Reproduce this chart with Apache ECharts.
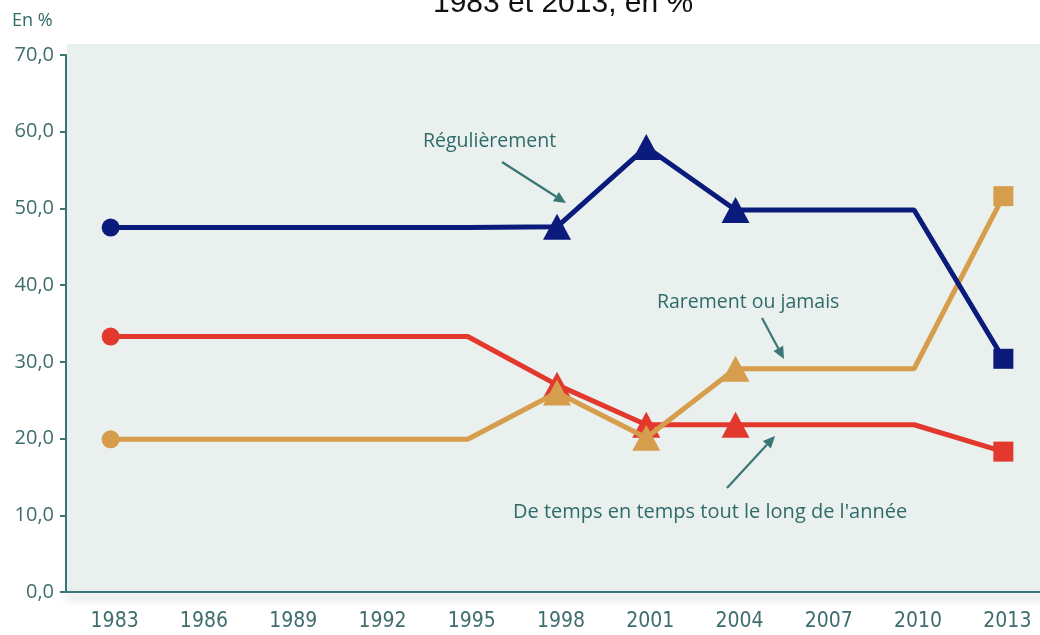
<!DOCTYPE html>
<html>
<head>
<meta charset="utf-8">
<script src="https://cdn.jsdelivr.net/npm/echarts@6/dist/echarts.min.js"></script>
<style>
  html, body { margin: 0; padding: 0; background: #fff; }
  #chart { width: 1040px; height: 635px; }
</style>
</head>
<body>
<div id="chart"></div>
<script>
const years = ['1983', '1986', '1989', '1992', '1995', '1998', '2001', '2004', '2007', '2010', '2013'];
const regulierement = [47.5, 47.5, 47.5, 47.5, 47.5, 47.6, 58.0, 49.8, 49.8, 49.8, 30.4];
const deTempsEnTemps = [33.3, 33.3, 33.3, 33.3, 33.3, 27.0, 21.8, 21.8, 21.8, 21.8, 18.3];
const rarement = [19.9, 19.9, 19.9, 19.9, 19.9, 26.0, 20.1, 29.1, 29.1, 29.1, 51.6];
const yTicks = [0, 10, 20, 30, 40, 50, 60, 70];

// marqueurs : rond au debut, triangles 1998-2004, carre en 2013
const shapes = ['circle', 'none', 'none', 'none', 'none', 'triangle', 'triangle', 'triangle', 'none', 'none', 'rect'];
const sizes = { circle: 18, triangle: [28, 26], rect: 20, none: 0 };

const teal = '#3a7674';
const textTeal = '#2f6b69';

function withMarkers(values) {
  return values.map((v, i) => ({
    value: v,
    symbol: shapes[i],
    symbolSize: sizes[shapes[i]],
  }));
}

function lineSeries(name, values, color, z) {
  return {
    name: name,
    type: 'line',
    data: withMarkers(values),
    z: z,
    showAllSymbol: true,
    lineStyle: { color: color, width: 5 },
    itemStyle: { color: color, opacity: 1 },
    emphasis: { disabled: true },
    animation: false,
  };
}

function arrow(x1, y1, x2, y2) {
  const a = Math.atan2(y2 - y1, x2 - x1);
  const l = 12, w = 5.5;
  const bx = x2 - l * Math.cos(a), by = y2 - l * Math.sin(a);
  return [
    {
      type: 'line',
      shape: { x1: x1, y1: y1, x2: bx, y2: by },
      style: { stroke: teal, lineWidth: 2.2 },
      z: 50,
    },
    {
      type: 'polygon',
      shape: {
        points: [
          [x2, y2],
          [bx - w * Math.sin(a), by + w * Math.cos(a)],
          [bx + w * Math.sin(a), by - w * Math.cos(a)],
        ],
      },
      style: { fill: teal },
      z: 50,
    },
  ];
}

function label(text, x, y, size) {
  return {
    type: 'text',
    x: x,
    y: y,
    z: 50,
    style: {
      text: text,
      fill: textTeal,
      font: size + 'px "Open Sans"',
      verticalAlign: 'middle',
    },
  };
}

const myChart = echarts.init(document.getElementById('chart'), null, { renderer: 'canvas' });
const option = {
  backgroundColor: '#ffffff',
  animation: false,
  grid: {
    left: 66,
    right: -8,
    top: 55,
    bottom: 43,
    outerBoundsMode: 'none',
  },
  xAxis: {
    type: 'category',
    data: years,
    boundaryGap: true,
    axisLine: {
      lineStyle: {
        color: teal,
        width: 2,
        shadowColor: 'rgba(0,0,0,0.35)',
        shadowBlur: 8,
        shadowOffsetY: 5,
      },
    },
    axisTick: {
      length: 7,
      lineStyle: { color: teal, width: 2 },
    },
    axisLabel: {
      interval: 0,
      margin: 19,
      padding: [0, 0, 0, 8],
      color: '#3f6d6d',
      fontSize: 21,
      fontFamily: '"Liberation Sans Narrow", "DejaVu Sans Condensed", sans-serif',
    },
    splitLine: { show: false },
  },
  yAxis: {
    type: 'value',
    min: yTicks[0],
    max: yTicks[yTicks.length - 1],
    interval: 10,
    axisLine: { show: true, lineStyle: { color: teal, width: 2 } },
    axisTick: { show: true, length: 6, lineStyle: { color: teal, width: 2 } },
    axisLabel: {
      margin: 12,
      color: '#3f6d6d',
      fontSize: 20,
      fontFamily: '"Open Sans", sans-serif',
      formatter: (v) => v.toFixed(1).replace('.', ','),
    },
    splitLine: { show: false },
  },
  graphic: [
    {
      type: 'rect',
      shape: { x: 67, y: 44, width: 980, height: 547 },
      style: { fill: '#e9f0ee' },
      z: -10,
      silent: true,
    },
    {
      type: 'text',
      x: 433,
      y: 4,
      style: {
        text: '1983 et 2013, en %',
        fill: '#111',
        font: '30px "Liberation Sans", Arial, sans-serif',
        verticalAlign: 'middle',
      },
    },
    {
      type: 'text',
      x: 12,
      y: 21,
      style: {
        text: 'En %',
        fill: textTeal,
        font: '18px "Open Sans"',
        verticalAlign: 'middle',
      },
    },
    label('Régulièrement', 423, 141, 19.5),
    ...arrow(502, 162, 566, 203),
    label('Rarement ou jamais', 657, 302, 19.5),
    ...arrow(762, 318, 784, 359),
    label("De temps en temps tout le long de l'année", 513, 512, 20),
    ...arrow(727, 488, 775, 436),
  ],
  series: [
    lineSeries('De temps en temps tout le long de l\'année', deTempsEnTemps, '#e2382d', 3),
    lineSeries('Rarement ou jamais', rarement, '#d69d4c', 4),
    lineSeries('Régulièrement', regulierement, '#0b1b7c', 5),
  ],
};
myChart.setOption(option);

window.addEventListener('resize', () => {
  myChart.resize();
});
</script>
</body>
</html>
